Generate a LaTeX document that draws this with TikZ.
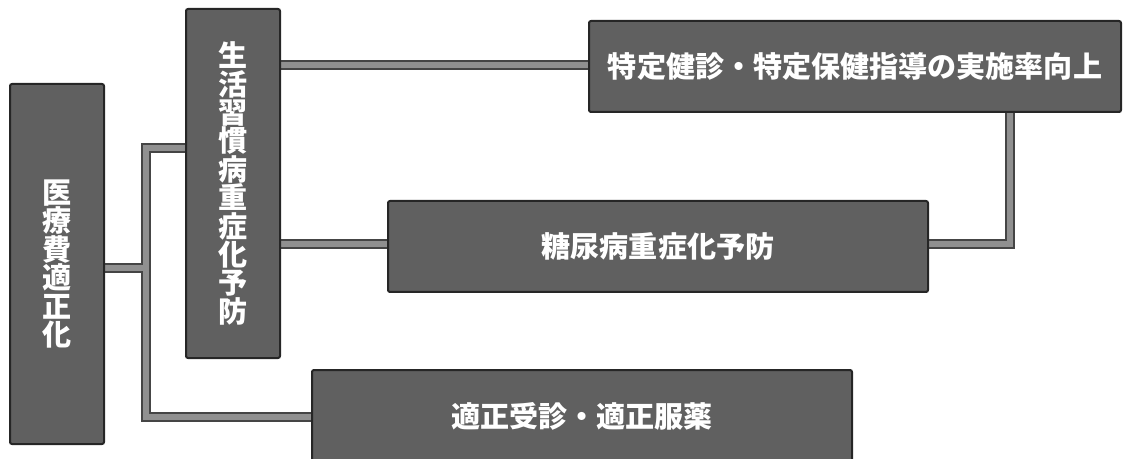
\documentclass[tikz,border=0pt]{standalone}
\usepackage{fontspec}
\newfontfamily\jp{Noto Sans CJK JP}
\usetikzlibrary{backgrounds}
\definecolor{boxfill}{HTML}{606060}
\definecolor{boxline}{HTML}{262626}
\definecolor{connout}{HTML}{454545}
\definecolor{connin}{HTML}{909090}
\tikzset{
  box/.style={draw=boxline, line width=1.5pt, fill=boxfill, rounded corners=1.5pt,
    text=white, inner sep=0pt, align=center,
    font=\jp\bfseries\fontsize{21.8pt}{21.3pt}\selectfont},
  connout/.style={draw=connout, line width=7.5pt, line join=miter},
  connin/.style={draw=connin, line width=4.5pt, line join=miter},
}
\begin{document}
\begin{tikzpicture}[x=0.75pt,y=-0.75pt]
\useasboundingbox (0,0) rectangle (1123,459);
\node[box, minimum width=70.5pt, minimum height=270pt] (A) at (57,264) {医\\療\\費\\適\\正\\化};
\node[box, minimum width=70.5pt, minimum height=261.75pt] (B) at (233,183.5) {生\\活\\習\\慣\\病\\重\\症\\化\\予\\防};
\node[box, minimum width=399pt, minimum height=68.25pt] (C1) at (855,66.5) {特定健診・特定保健指導の実施率向上};
\node[box, minimum width=405pt, minimum height=68.25pt] (C2) at (658,246.5) {糖尿病重症化予防};
\node[box, minimum width=405pt, minimum height=69pt] (D) at (582,416) {適正受診・適正服薬};
\coordinate (jt) at (146,148);
\coordinate (jm) at (146,268);
\coordinate (jb) at (146,417);
\coordinate (r1) at (300,65);
\coordinate (r2) at (300,244);
\coordinate (k) at (1010,244);
\begin{scope}[on background layer]
  \foreach \s in {connout,connin}{
    \draw[\s] (jt -| B.west) -- (jt) -- (jb) -- (jb -| D.west);
    \draw[\s] (jm -| A.east) -- (jm);
    \draw[\s] (r1 -| B.east) -- (r1 -| C1.west);
    \draw[\s] (r2 -| B.east) -- (r2 -| C2.west);
    \draw[\s] (k |- C1.south) -- (k) -- (k -| C2.east);
  }
\end{scope}
\end{tikzpicture}
\end{document}
